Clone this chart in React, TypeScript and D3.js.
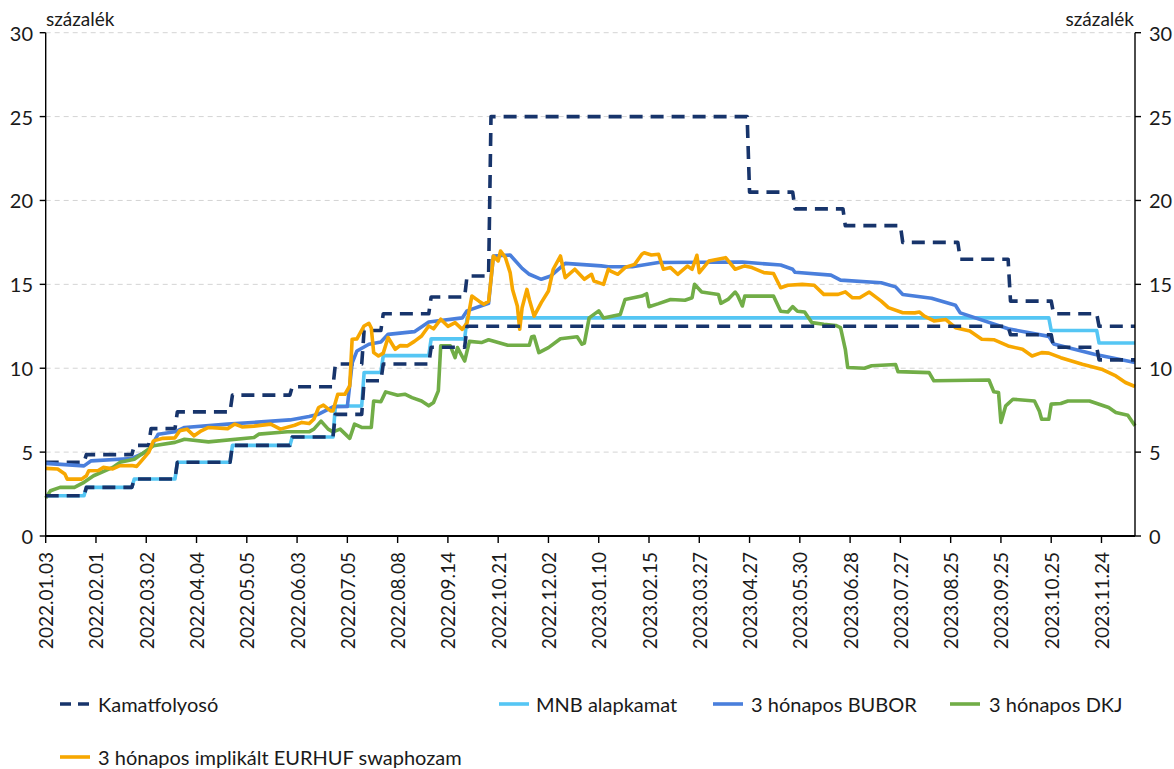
import React from 'react';
import * as d3 from 'd3';

// ---- Data (index = trading-day position on the category axis) ----
const tickLabels: string[] = [
  '2022.01.03', '2022.02.01', '2022.03.02', '2022.04.04', '2022.05.05', '2022.06.03',
  '2022.07.05', '2022.08.08', '2022.09.14', '2022.10.21', '2022.12.02', '2023.01.10',
  '2023.02.15', '2023.03.27', '2023.04.27', '2023.05.30', '2023.06.28', '2023.07.27',
  '2023.08.25', '2023.09.25', '2023.10.25', '2023.11.24',
];
const TICK_STEP = 21;
const LAST_INDEX = 455;
const yTicks: number[] = [0, 5, 10, 15, 20, 25, 30];

// step series: [start index, value]
const corridorUpper: [number, number][] = [
  [0, 4.4], [17, 4.85], [37, 5.4], [44, 6.4], [55, 7.4], [78, 8.4], [103, 8.9], [121, 10.25],
  [133, 12.25], [141, 13.25], [161, 14.25], [176, 15.5], [186, 25], [294, 20.5], [313, 19.5],
  [334, 18.5], [358, 17.5], [382, 16.5], [403, 14], [421, 13.25], [440, 12.5],
];
const corridorLower: [number, number][] = [
  [0, 2.4], [17, 2.9], [37, 3.4], [55, 4.4], [78, 5.4], [103, 5.9], [121, 7.25], [133, 9.25],
  [141, 10.25], [161, 11.25], [176, 12.5], [403, 12.0], [421, 11.25], [440, 10.5],
];
const baseRate: [number, number][] = [
  [0, 2.4], [17, 2.9], [37, 3.4], [55, 4.4], [78, 5.4], [103, 5.9], [121, 7.75], [133, 9.75],
  [141, 10.75], [161, 11.75], [176, 13.0], [420, 12.25], [440, 11.5],
];

// observed series: [index, value]
const bubor: [number, number][] = [
  [0, 4.33], [16, 4.18], [19, 4.48], [36, 4.62], [43, 5.08], [47, 6.07], [54, 6.21], [58, 6.47],
  [76, 6.67], [102, 6.92], [110, 7.12], [114, 7.26], [120, 7.7], [126, 7.72], [128, 10.3],
  [130, 11.03], [135, 11.43], [140, 11.57], [143, 12.02], [154, 12.18], [160, 12.76], [174, 13.0],
  [176, 13.42], [185, 13.87], [187, 16.69], [194, 16.75], [199, 15.95], [202, 15.6], [207, 15.3],
  [211, 15.5], [217, 16.25], [232, 16.1], [235, 16.05], [245, 16.05], [256, 16.3], [291, 16.33],
  [307, 16.15], [312, 15.9], [313, 15.72], [328, 15.55], [332, 15.25], [349, 15.1], [355, 14.85],
  [358, 14.4], [370, 14.17], [380, 13.75], [382, 13.3], [402, 12.35], [419, 11.9], [421, 11.45],
  [438, 10.83], [455, 10.34],
];
const dkj: [number, number][] = [
  [0, 2.26], [2, 2.7], [6, 2.9], [12, 2.9], [16, 3.2], [20, 3.59], [28, 4.09], [31, 4.39],
  [37, 4.58], [41, 4.98], [45, 5.38], [54, 5.58], [58, 5.77], [68, 5.61], [87, 5.87], [89, 6.07],
  [101, 6.21], [110, 6.21], [112, 6.37], [115, 6.85], [118, 6.37], [120, 6.21], [123, 6.37],
  [127, 5.82], [129, 6.67], [132, 6.47], [136, 6.47], [137, 8.05], [140, 8.0], [142, 8.59],
  [147, 8.39], [150, 8.45], [153, 8.25], [157, 8.05], [160, 7.76], [162, 7.96], [164, 8.65],
  [165, 11.33], [169, 11.33], [171, 10.63], [172, 11.23], [175, 10.43], [177, 11.6], [182, 11.53],
  [185, 11.7], [193, 11.37], [202, 11.37], [203, 11.88], [204, 11.9], [206, 10.93], [210, 11.23],
  [215, 11.76], [222, 11.88], [224, 11.43], [225, 11.5], [227, 13.0], [231, 13.42], [233, 13.0],
  [240, 13.2], [242, 14.1], [249, 14.3], [251, 14.44], [252, 13.67], [256, 13.85], [261, 14.1],
  [267, 14.05], [270, 14.2], [271, 15.0], [274, 14.54], [281, 14.4], [282, 13.87], [285, 14.1],
  [288, 14.54], [289, 14.35], [291, 13.71], [292, 14.3], [298, 14.3], [304, 14.3], [307, 13.4],
  [310, 13.35], [312, 13.67], [314, 13.4], [317, 13.35], [320, 12.72], [325, 12.62], [330, 12.55],
  [332, 12.42], [334, 11.13], [335, 10.04], [342, 10.0], [345, 10.15], [355, 10.22], [356, 9.8],
  [369, 9.74], [371, 9.25], [394, 9.3], [396, 8.6], [398, 8.55], [399, 6.77], [401, 7.76],
  [404, 8.15], [413, 8.05], [415, 7.46], [416, 6.96], [419, 6.96], [420, 7.86], [424, 7.9],
  [427, 8.05], [436, 8.05], [444, 7.66], [447, 7.36], [452, 7.2], [455, 6.57],
];
const swap: [number, number][] = [
  [0, 4.03], [5, 3.99], [8, 3.69], [9, 3.39], [15, 3.39], [17, 3.59], [18, 3.89], [22, 3.9],
  [24, 4.09], [28, 4.0], [31, 4.19], [36, 4.2], [38, 4.15], [40, 4.48], [43, 4.98], [45, 5.67],
  [49, 5.82], [54, 5.85], [56, 6.27], [59, 6.37], [62, 5.97], [65, 6.27], [68, 6.47], [76, 6.4],
  [79, 6.67], [82, 6.5], [87, 6.55], [94, 6.67], [98, 6.37], [104, 6.6], [107, 6.77], [110, 6.7],
  [112, 6.96], [114, 7.66], [116, 7.8], [119, 7.46], [120, 7.46], [122, 8.45], [125, 8.45],
  [127, 8.95], [128, 11.73], [130, 11.75], [133, 12.52], [135, 12.68], [136, 12.4], [137, 10.93],
  [139, 10.73], [141, 10.9], [143, 11.83], [146, 11.13], [148, 11.35], [151, 11.33], [154, 11.6],
  [157, 11.92], [160, 12.52], [162, 12.35], [165, 12.92], [168, 12.5], [171, 12.72], [174, 12.32],
  [176, 12.7], [178, 14.3], [181, 14.0], [183, 13.81], [185, 14.0], [186, 15.3], [187, 16.69],
  [189, 16.4], [190, 16.99], [192, 16.6], [194, 15.7], [195, 14.7], [197, 13.71], [198, 12.32],
  [199, 13.61], [201, 14.7], [202, 14.1], [204, 13.11], [207, 13.91], [210, 14.6], [212, 15.9],
  [215, 16.69], [217, 15.4], [221, 15.9], [225, 15.3], [228, 15.6], [229, 15.2], [231, 15.1],
  [233, 15.0], [235, 15.9], [236, 15.79], [239, 15.6], [242, 16.0], [246, 16.19], [249, 16.79],
  [250, 16.88], [253, 16.75], [256, 16.79], [258, 15.9], [261, 16.0], [264, 15.6], [268, 16.09],
  [270, 15.9], [272, 16.73], [273, 15.7], [277, 16.39], [284, 16.59], [288, 15.9], [292, 16.1],
  [295, 16.0], [300, 15.7], [304, 15.65], [307, 14.8], [310, 14.95], [316, 15.0], [321, 14.95],
  [325, 14.4], [331, 14.4], [334, 14.55], [337, 14.2], [340, 14.2], [344, 14.54], [349, 14.0],
  [352, 13.61], [358, 13.31], [363, 13.3], [365, 13.35], [367, 13.11], [371, 12.82], [376, 12.9],
  [380, 12.42], [386, 12.22], [391, 11.73], [396, 11.7], [402, 11.33], [408, 11.13], [412, 10.73],
  [416, 10.93], [419, 10.9], [424, 10.63], [433, 10.24], [441, 9.94], [447, 9.54], [451, 9.15],
  [455, 8.91],
];

const legendItems = [
  { label: 'Kamatfolyosó', color: '#17346b', dashed: true },
  { label: 'MNB alapkamat', color: '#55c6f4', dashed: false },
  { label: '3 hónapos BUBOR', color: '#4a7fdc', dashed: false },
  { label: '3 hónapos DKJ', color: '#71ad47', dashed: false },
  { label: '3 hónapos implikált EURHUF swaphozam', color: '#f7a700', dashed: false },
];

// ---- Layout ----
const W = 1174, H = 769;
const L = 45.7, R = 1135, T = 32.7, B = 536;
const FONT = 'Lato, "Open Sans", sans-serif';
const TEXT = '#1a1a1a';

function stepPoints(steps: [number, number][], end: number): [number, number][] {
  const pts: [number, number][] = [];
  steps.forEach(([i, v], k) => {
    const until = k < steps.length - 1 ? steps[k + 1][0] - 1 : end;
    pts.push([i, v]);
    pts.push([until, v]);
  });
  return pts;
}

export default function App() {
  const x = d3.scaleLinear().domain([0, LAST_INDEX]).range([L, R]);
  const y = d3.scaleLinear().domain([0, 30]).range([B, T]);
  const line = d3.line<[number, number]>().x(d => x(d[0])).y(d => y(d[1]));

  const series = [
    { pts: stepPoints(corridorUpper, LAST_INDEX), color: legendItems[0].color, dash: '13,8' },
    { pts: stepPoints(baseRate, LAST_INDEX), color: legendItems[1].color, dash: undefined },
    { pts: bubor, color: legendItems[2].color, dash: undefined },
    { pts: dkj, color: legendItems[3].color, dash: undefined },
    { pts: swap, color: legendItems[4].color, dash: undefined },
    { pts: stepPoints(corridorLower, LAST_INDEX), color: legendItems[0].color, dash: '13,8' },
  ];

  const legendPos = [
    { lx: 60, tx: 98, y: 704 },
    { lx: 499, tx: 536, y: 704 },
    { lx: 713, tx: 751, y: 704 },
    { lx: 950, tx: 989, y: 704 },
    { lx: 60, tx: 98, y: 757 },
  ];

  return (
    <svg width={W} height={H} style={{ position: 'absolute', left: 0, top: 0, background: '#fff' }}
      fontFamily={FONT}>
      {/* gridlines */}
      {yTicks.filter(t => t > 0).map(t => (
        <line key={'g' + t} x1={L} x2={R} y1={y(t)} y2={y(t)} stroke="#d4d4d4" strokeWidth={1}
          strokeDasharray="5,4" />
      ))}
      {/* series */}
      {series.map((s, k) => (
        <path key={'s' + k} d={line(s.pts) || ''} fill="none" stroke={s.color} strokeWidth={3.6}
          strokeDasharray={s.dash} strokeLinejoin="round" />
      ))}
      {/* axes */}
      <line x1={L} x2={L} y1={T} y2={B} stroke="#000" strokeWidth={1.4} />
      <line x1={R} x2={R} y1={T} y2={B} stroke="#000" strokeWidth={1.4} />
      <line x1={L} x2={R} y1={B} y2={B} stroke="#000" strokeWidth={2} />
      {yTicks.map(t => (
        <g key={'yt' + t}>
          <line x1={L - 6} x2={L} y1={y(t)} y2={y(t)} stroke="#000" strokeWidth={1.4} />
          <line x1={R} x2={R + 6} y1={y(t)} y2={y(t)} stroke="#000" strokeWidth={1.4} />
          <text x={33} y={y(t)} textAnchor="end" dominantBaseline="central" fontSize={20} fill={TEXT}>{t}</text>
          <text x={1149} y={y(t)} textAnchor="start" dominantBaseline="central" fontSize={20} fill={TEXT}>{t}</text>
        </g>
      ))}
      {tickLabels.map((lab, k) => {
        const xp = x(k * TICK_STEP);
        return (
          <g key={'xt' + k}>
            <line x1={xp} x2={xp} y1={B} y2={B + 7} stroke="#000" strokeWidth={1.4} />
            <text transform={`translate(${xp},552) rotate(-90)`} textAnchor="end" dominantBaseline="central"
              fontSize={19} fill={TEXT}>{lab}</text>
          </g>
        );
      })}
      <text x={46} y={26} fontSize={19} fill={TEXT}>százalék</text>
      <text x={1134} y={26} fontSize={19} fill={TEXT} textAnchor="end">százalék</text>
      {/* legend */}
      {legendItems.map((it, k) => {
        const p = legendPos[k];
        return (
          <g key={'lg' + k}>
            <line x1={p.lx} x2={p.lx + 30} y1={p.y} y2={p.y} stroke={it.color} strokeWidth={3.6}
              strokeDasharray={it.dashed ? '11,7' : undefined} />
            <text x={p.tx} y={p.y} dominantBaseline="central" fontSize={20} fill={TEXT}>{it.label}</text>
          </g>
        );
      })}
    </svg>
  );
}
